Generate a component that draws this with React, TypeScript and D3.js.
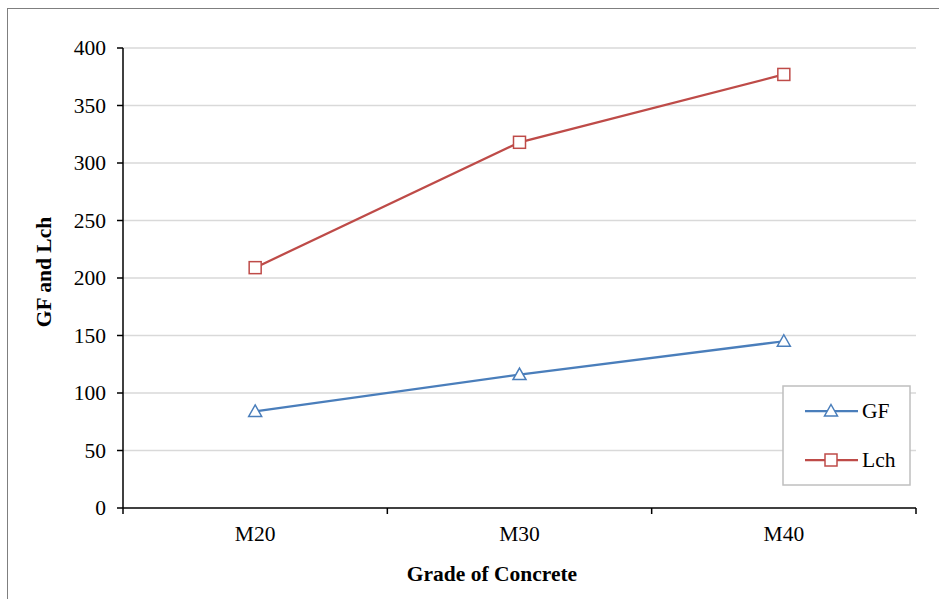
import React from "react";
import * as d3 from "d3";

const grades = ["M20", "M30", "M40"];
const gfValues = [84, 116, 145];
const lchValues = [209, 318, 377];
const yTicks = [0, 50, 100, 150, 200, 250, 300, 350, 400];

const W = 939;
const H = 599;
const margin = { top: 48, right: 23, bottom: 91, left: 123 };

const blue = "#4a7ebb";
const red = "#be4b48";
const txt = { fontFamily: "Liberation Serif, Times New Roman, DejaVu Serif, serif", fontSize: 21.5 };

const App = () => {
  const plotW = W - margin.left - margin.right;
  const plotH = H - margin.top - margin.bottom;

  const x = d3.scaleBand().domain(grades).range([0, plotW]);
  const y = d3.scaleLinear().domain([0, 400]).range([plotH, 0]);
  const cx = (g: string) => (x(g) as number) + x.bandwidth() / 2;

  const line = d3
    .line<number>()
    .x((_, i) => cx(grades[i]))
    .y((d) => y(d));

  const triangle = (px: number, py: number, key: string) => (
    <path
      key={key}
      d={`M${px},${py - 6.5} L${px + 6.5},${py + 5} L${px - 6.5},${py + 5} Z`}
      fill="white"
      stroke={blue}
      strokeWidth={1.5}
    />
  );
  const square = (px: number, py: number, key: string) => (
    <rect key={key} x={px - 6} y={py - 6} width={12} height={12} fill="white" stroke={red} strokeWidth={1.5} />
  );

  const bounds = [...grades.map((g) => x(g) as number), plotW];

  return (
    <svg width={W} height={H} style={{ position: "absolute", left: 0, top: 0, background: "white" }}>
      <rect x={7.5} y={8.5} width={W} height={H} fill="white" stroke="#7f7f7f" strokeWidth={1} />
      <g transform={`translate(${margin.left},${margin.top})`}>
        {yTicks.map((t) => (
          <g key={t}>
            {t > 0 && <line x1={0} x2={plotW} y1={y(t)} y2={y(t)} stroke="#d9d9d9" strokeWidth={1.5} />}
            <line x1={-6} x2={0} y1={y(t)} y2={y(t)} stroke="black" strokeWidth={1.5} />
            <text x={-17} y={y(t)} dy="0.33em" textAnchor="end" style={txt}>
              {t}
            </text>
          </g>
        ))}
        <line x1={0} x2={0} y1={0} y2={plotH} stroke="black" strokeWidth={1.5} />
        <line x1={0} x2={plotW} y1={plotH} y2={plotH} stroke="black" strokeWidth={1.5} />
        {bounds.map((b, i) => (
          <line key={i} x1={b} x2={b} y1={plotH} y2={plotH + 6} stroke="black" strokeWidth={1.5} />
        ))}
        {grades.map((g) => (
          <text key={g} x={cx(g)} y={plotH + 33} textAnchor="middle" style={txt}>
            {g}
          </text>
        ))}
        <path d={line(gfValues) ?? ""} fill="none" stroke={blue} strokeWidth={2.25} />
        <path d={line(lchValues) ?? ""} fill="none" stroke={red} strokeWidth={2.25} />
        {gfValues.map((v, i) => triangle(cx(grades[i]), y(v), `gf${i}`))}
        {lchValues.map((v, i) => square(cx(grades[i]), y(v), `l${i}`))}
      </g>
      <text
        transform={`translate(51,272) rotate(-90)`}
        textAnchor="middle"
        style={{ ...txt, fontWeight: "bold" }}
      >
        GF and Lch
      </text>
      <text x={492} y={581} textAnchor="middle" style={{ ...txt, fontWeight: "bold" }}>
        Grade of Concrete
      </text>
      <g>
        <rect x={783} y={386} width={127} height={99} fill="white" stroke="#bfbfbf" strokeWidth={1.5} />
        <line x1={805} x2={858} y1={411} y2={411} stroke={blue} strokeWidth={2.25} />
        {triangle(831, 411, "lg1")}
        <text x={862} y={411} dy="0.33em" style={txt}>
          GF
        </text>
        <line x1={805} x2={858} y1={460} y2={460} stroke={red} strokeWidth={2.25} />
        {square(831, 460, "lg2")}
        <text x={862} y={460} dy="0.33em" style={txt}>
          Lch
        </text>
      </g>
    </svg>
  );
};

export default App;
